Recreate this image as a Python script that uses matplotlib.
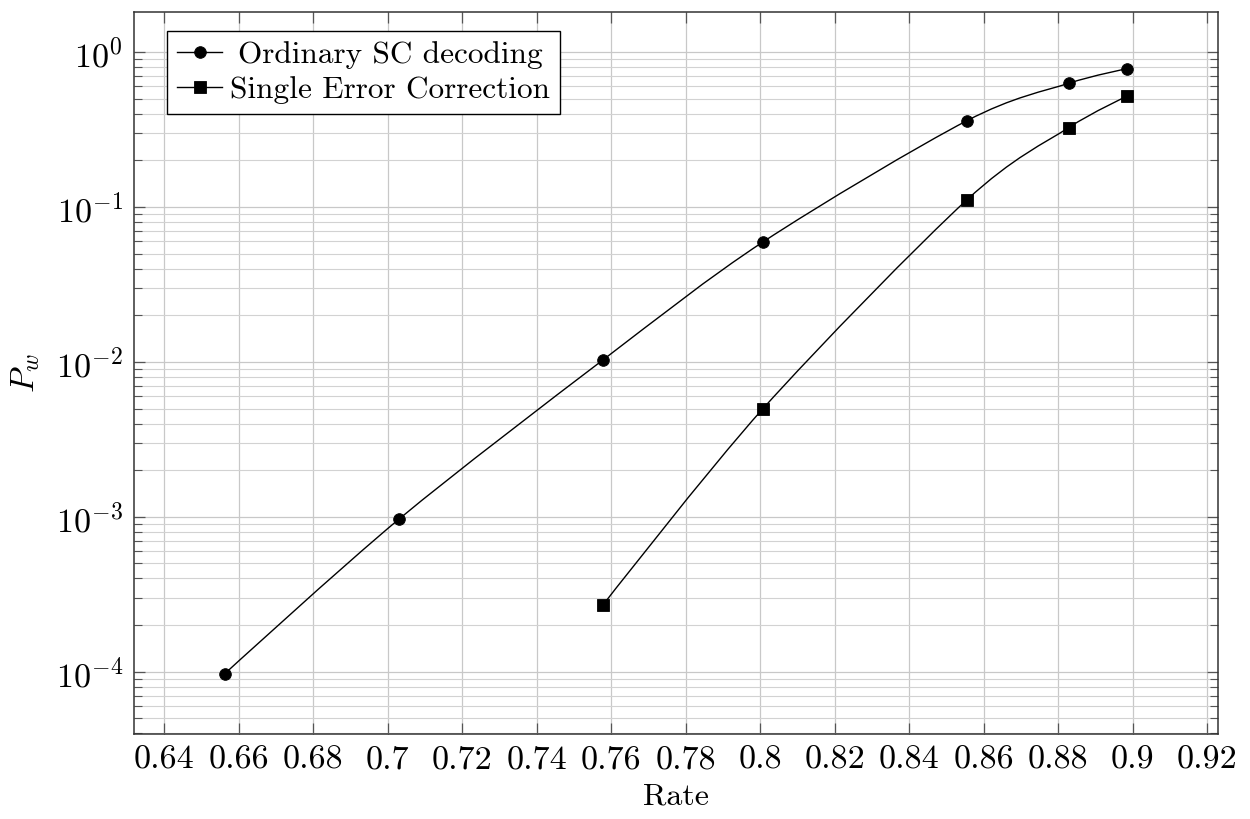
import numpy as np
import matplotlib
matplotlib.use("Agg")
import matplotlib.pyplot as plt
from matplotlib.path import Path
from matplotlib.patches import PathPatch
from matplotlib.lines import Line2D
from matplotlib.ticker import FixedLocator, FixedFormatter, NullLocator

# ---------------- data ----------------
rate_sc = [0.65625, 0.703125, 0.7578125, 0.80078125, 0.85546875, 0.8828125, 0.8984375]
pw_sc = [9.7e-5, 9.7e-4, 0.0103, 0.0595, 0.360, 0.628, 0.780]

rate_sec = [0.7578125, 0.80078125, 0.85546875, 0.8828125, 0.8984375]
pw_sec = [2.70e-4, 5.0e-3, 0.111, 0.325, 0.518]

label_sc = "Ordinary SC decoding"
label_sec = "Single Error Correction"

xticks = [0.64, 0.66, 0.68, 0.70, 0.72, 0.74, 0.76, 0.78, 0.80, 0.82, 0.84, 0.86, 0.88, 0.90, 0.92]
xticklabels = ["0.64", "0.66", "0.68", "0.7", "0.72", "0.74", "0.76", "0.78", "0.8",
               "0.82", "0.84", "0.86", "0.88", "0.9", "0.92"]
yticks = [1e-4, 1e-3, 1e-2, 1e-1, 1e0]
yticklabels = [r"$10^{-4}$", r"$10^{-3}$", r"$10^{-2}$", r"$10^{-1}$", r"$10^{0}$"]
yminor = [m * 10.0 ** e for e in range(-5, 1) for m in range(2, 10)]

# ---------------- style ----------------
plt.rcParams["font.family"] = ["cmr10", "DejaVu Serif"]
plt.rcParams["mathtext.fontset"] = "cm"
plt.rcParams["axes.formatter.use_mathtext"] = True
FS = 24.5
LFS = 22.5
MS = 8.4

fig = plt.figure(figsize=(12.5, 8.19), dpi=100)
ax = fig.add_axes([0.1072, 0.1034, 0.9744 - 0.1072, 0.9853 - 0.1034])
ax.set_yscale("log")
ax.set_xlim(0.6319, 0.9229)
ax.set_ylim(10 ** -4.404, 10 ** 0.258)

ax.xaxis.set_major_locator(FixedLocator(xticks))
ax.xaxis.set_major_formatter(FixedFormatter(xticklabels))
ax.xaxis.set_minor_locator(NullLocator())
ax.yaxis.set_major_locator(FixedLocator(yticks))
ax.yaxis.set_major_formatter(FixedFormatter(yticklabels))
ax.yaxis.set_minor_locator(FixedLocator(yminor))

ax.grid(True, which="major", color="#c8c8c8", lw=0.9, zorder=0)
ax.grid(True, which="minor", axis="y", color="#d2d2d2", lw=0.8, zorder=0)
ax.set_axisbelow(True)

ax.tick_params(which="both", direction="in", top=True, right=True, colors="#555555",
               labelcolor="black", labelsize=FS)
ax.tick_params(which="major", length=8, width=0.9, pad=8)
ax.tick_params(which="minor", length=5.5, width=0.8)
for s in ax.spines.values():
    s.set_color("#333333")
    s.set_linewidth(1.1)

ax.set_xlabel("Rate", fontsize=LFS + 0.5, labelpad=6)
ax.set_ylabel(r"$P_w$", fontsize=FS, labelpad=10)


def smooth_path(xs, ys, f=0.153):
    """TikZ-style 'smooth' curve through the points, in (x, log10 y) space."""
    P = np.column_stack([np.asarray(xs, float), np.log10(np.asarray(ys, float))])
    n = len(P)
    verts = [P[0]]
    codes = [Path.MOVETO]
    prev_support = P[0]
    for i in range(1, n):
        if i < n - 1:
            d = f * (P[i + 1] - P[i - 1])
            c2 = P[i] - d
            nxt = P[i] + d
        else:
            c2 = P[i]
            nxt = P[i]
        verts += [prev_support, c2, P[i]]
        codes += [Path.CURVE4] * 3
        prev_support = nxt
    return Path(np.array(verts), codes)


tr = ax.transLimits + ax.transAxes
for xs, ys in [(rate_sc, pw_sc), (rate_sec, pw_sec)]:
    patch = PathPatch(smooth_path(xs, ys), facecolor="none", edgecolor="black",
                      lw=1.0, transform=tr, zorder=3)
    ax.add_patch(patch)

ax.plot(rate_sc, pw_sc, linestyle="none", marker="o", ms=MS, mew=0.6, color="black", zorder=4)
ax.plot(rate_sec, pw_sec, linestyle="none", marker="s", ms=MS, mew=0.6, color="black", zorder=4)

handles = [Line2D([], [], color="black", lw=1.0, marker="o", ms=MS, mew=0.6),
           Line2D([], [], color="black", lw=1.0, marker="s", ms=MS, mew=0.6)]
leg = ax.legend(handles, [label_sc, label_sec], loc="upper left",
                bbox_to_anchor=(0.0304, 0.974), borderaxespad=0, fontsize=LFS,
                fancybox=False, framealpha=1, edgecolor="black", handlelength=1.45,
                handletextpad=0.25, labelspacing=0.22, borderpad=0.32)
leg.get_frame().set_linewidth(1.0)

# centre legend texts in their column (pgfplots style)
fig.canvas.draw()
r = fig.canvas.get_renderer()
widths = [t.get_window_extent(r).width for t in leg.texts]
wmax = max(widths)
for t, w in zip(leg.texts, widths):
    t.set_x((wmax - w) / 2.0)

fig.savefig("out.png", dpi=100)
